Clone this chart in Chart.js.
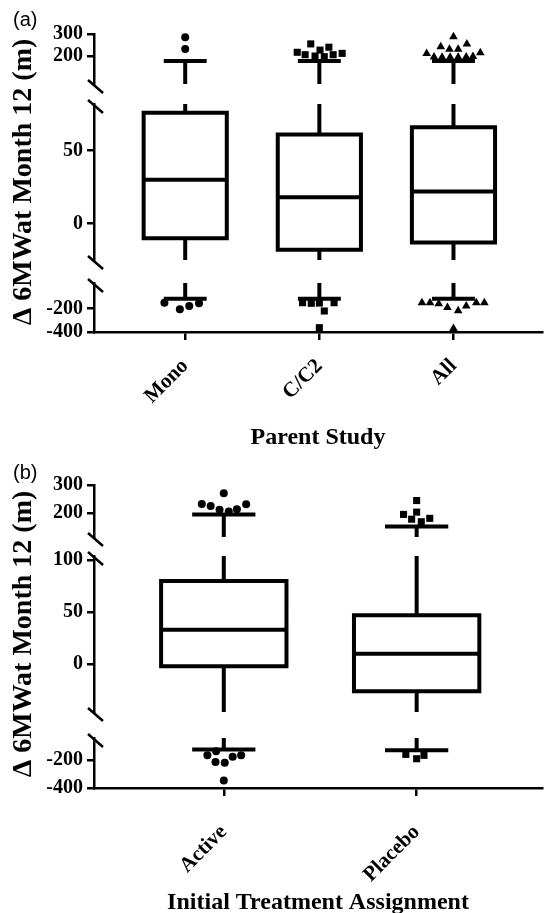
<!DOCTYPE html>
<html>
<head>
<meta charset="utf-8">
<script src="https://cdn.jsdelivr.net/npm/chart.js@4.4.1/dist/chart.umd.min.js"></script>
<style>
  body { margin: 0; background: #fff; }
  .wrap { position: absolute; left: 0; width: 547px; }
  .tag { position: absolute; left: 13px; font: 20px "Liberation Sans", Arial, sans-serif; line-height: 1; color: #000; }
</style>
</head>
<body>
<div class="wrap" style="top:0;height:458px"><canvas id="chartA"></canvas></div>
<div class="tag" style="top:9px">(a)</div>
<div class="wrap" style="top:458px;height:455px"><canvas id="chartB"></canvas></div>
<div class="tag" style="top:462px">(b)</div>
<script>
// ---- (a) Parent Study ----
const studyLabels = ['Mono', 'C/C2', 'All'];
const studyQ1 = [-10, -18, -13];
const studyMedian = [30, 18, 22];
const studyQ3 = [76, 61, 66];
const studyCapHigh = [177, 177, 177];
const studyCapLow = [-115, -115, -115];
// outliers as [x offset from category, value]
const studyOutHigh = [
  [[0, 285], [0, 232]],
  [[-0.165, 217], [-0.106, 206], [-0.064, 255], [-0.032, 200], [0.005, 227], [0.037, 197], [0.071, 240], [0.103, 206], [0.17, 212]],
  [[0, 288], [-0.095, 242], [-0.03, 231], [0.035, 231], [0.1, 255], [-0.2, 212], [0.2, 215],
   [-0.145, 196], [-0.085, 194], [-0.025, 194], [0.035, 194], [0.095, 196], [0.145, 198]]
];
const studyOutLow = [
  [[-0.155, -149], [-0.04, -206], [0.03, -178], [0.103, -154]],
  [[-0.125, -149], [-0.06, -154], [0, -152], [0.037, -220], [0.11, -149], [0, -363]],
  [[-0.235, -149], [-0.175, -149], [-0.11, -158], [-0.045, -190], [0.035, -218], [0.095, -178], [0.17, -149], [0.23, -149], [0, -369]]
];
const studyTicksTop = [300, 200];
const studyTicksMid = [50, 0];
const studyTicksLow = [-200, -400];

// ---- (b) Initial Treatment Assignment ----
const treatLabels = ['Active', 'Placebo'];
const treatQ1 = [-2, -26];
const treatMedian = [33, 10];
const treatQ3 = [80, 47];
const treatCapHigh = [196, 153];
const treatCapLow = [-126, -130];
const treatOutHigh = [
  [[0, 271], [-0.114, 233], [-0.068, 226], [-0.022, 212], [0.026, 206], [0.068, 214], [0.116, 232]],
  [[0, 245], [-0.068, 196], [0, 204], [-0.026, 179], [0.024, 170], [0.068, 182]]
];
const treatOutLow = [
  [[-0.085, -167], [-0.04, -137], [-0.043, -214], [0.005, -219], [0.046, -177], [0.09, -167], [0, -347]],
  [[-0.056, -160], [0, -191], [0.038, -167]]
];
const treatTicksTop = [300, 200];
const treatTicksMid = [100, 50, 0];
const treatTicksLow = [-200, -400];

const Y_FONT = { family: 'Liberation Serif', size: 20, weight: 'bold' };
const X_FONT = { family: 'Liberation Serif', size: 21, weight: 'bold' };
const TITLE_FONT = { family: 'Liberation Serif', size: 24, weight: 'bold' };
const YTITLE_FONT = { family: 'Liberation Serif', size: 28, weight: 'bold' };
const axisLine = { color: '#000', width: 2.5 };
const tickGrid = { drawOnChartArea: false, drawTicks: true, tickLength: 7, tickWidth: 2.5, tickColor: '#000', color: '#000', lineWidth: 2.5 };
const GAP = { x: null, y: null };

function lineSet(axis, data, cap) {
  return { showLine: true, yAxisID: axis, data, borderColor: '#000', backgroundColor: '#000',
    borderWidth: 4, pointRadius: 0, borderCapStyle: cap || 'butt', borderJoinStyle: 'miter', spanGaps: false };
}

function segScale(range, weight, order, tickVals, title) {
  const s = {
    type: 'linear', position: 'left', stack: 'left', stackWeight: weight, weight: order,
    min: range[0], max: range[1],
    afterBuildTicks: sc => { sc.ticks = tickVals.map(v => ({ value: v })); },
    afterFit: sc => { sc.width = 90; },
    ticks: { font: Y_FONT, color: '#000', padding: 4, callback: v => String(v) },
    grid: tickGrid, border: axisLine
  };
  if (title) s.title = { display: true, text: title, font: YTITLE_FONT, color: '#000', padding: { top: 3, bottom: 0 } };
  return s;
}

function gapScale(weight, order) {
  return { type: 'linear', position: 'left', stack: 'left', stackWeight: weight, weight: order, min: 0, max: 1,
    afterFit: sc => { sc.width = 90; }, ticks: { display: false }, grid: { display: false }, border: { display: false } };
}

// slashes where the y axis is broken
const breakMarks = {
  id: 'breakMarks',
  afterDraw(chart) {
    const ctx = chart.ctx, x = chart.chartArea.left;
    ctx.save();
    ctx.strokeStyle = '#000';
    ctx.lineWidth = 2.5;
    ['g1', 'g2'].forEach(id => {
      const s = chart.scales[id];
      [s.top, s.bottom].forEach(y => {
        ctx.beginPath();
        ctx.moveTo(x - 6, y - 4);
        ctx.lineTo(x + 9, y + 9);
        ctx.stroke();
      });
    });
    ctx.restore();
  }
};

function panel(p) {
  const boxPts = [], medPts = [], whiskMid = [], topPts = [], botPts = [];
  const datasets = [];
  p.labels.forEach((_, i) => {
    const c = i + 1, w = p.boxHalf, k = p.capHalf;
    boxPts.push({ x: c - w, y: p.q1[i] }, { x: c + w, y: p.q1[i] }, { x: c + w, y: p.q3[i] },
      { x: c - w, y: p.q3[i] }, { x: c - w, y: p.q1[i] }, GAP);
    medPts.push({ x: c - w, y: p.med[i] }, { x: c + w, y: p.med[i] }, GAP);
    whiskMid.push({ x: c, y: p.q3[i] }, { x: c, y: p.mid[1] }, GAP, { x: c, y: p.q1[i] }, { x: c, y: p.mid[0] }, GAP);
    topPts.push({ x: c, y: p.top[0] }, { x: c, y: p.capHigh[i] }, GAP, { x: c - k, y: p.capHigh[i] }, { x: c + k, y: p.capHigh[i] }, GAP);
    botPts.push({ x: c, y: p.bot[1] }, { x: c, y: p.capLow[i] }, GAP, { x: c - k, y: p.capLow[i] }, { x: c + k, y: p.capLow[i] }, GAP);
    const mark = { pointStyle: p.styles[i], pointRadius: p.radii[i], backgroundColor: '#000', borderColor: '#000', borderWidth: 0, clip: false };
    datasets.push(Object.assign({ yAxisID: 'yTop', data: p.outHigh[i].map(([dx, v]) => ({ x: c + dx, y: v })) }, mark));
    datasets.push(Object.assign({ yAxisID: 'yBot', data: p.outLow[i].map(([dx, v]) => ({ x: c + dx, y: v })) }, mark));
  });
  datasets.push(lineSet('y', boxPts, 'square'), lineSet('y', medPts), lineSet('y', whiskMid),
    lineSet('yTop', topPts), lineSet('yBot', botPts));

  return {
    type: 'scatter',
    data: { datasets },
    options: {
      responsive: true, maintainAspectRatio: false, animation: false, devicePixelRatio: 1,
      layout: { padding: { top: p.padTop, left: 4, right: 0, bottom: 0 } },
      plugins: { legend: { display: false }, tooltip: { enabled: false } },
      scales: {
        x: {
          type: 'linear', min: p.xRange[0], max: p.xRange[1],
          afterBuildTicks: sc => { sc.ticks = p.labels.map((_, i) => ({ value: i + 1 })); },
          afterFit: sc => { sc.height = p.xHeight; },
          ticks: { font: X_FONT, color: '#000', minRotation: 45, maxRotation: 45, autoSkip: false,
            padding: p.xPad, callback: v => p.labels[Math.round(v) - 1] },
          grid: Object.assign({}, tickGrid, { tickLength: 8 }),
          border: axisLine,
          title: { display: true, text: p.xTitle, font: TITLE_FONT, color: '#000', padding: { top: 0, bottom: p.titlePad } }
        },
        yTop: segScale(p.top, p.weights[0], 5, p.ticksTop),
        g1: gapScale(p.weights[1], 4),
        y: segScale(p.mid, p.weights[2], 3, p.ticksMid, 'Δ 6MWat Month 12 (m)'),
        g2: gapScale(p.weights[3], 2),
        yBot: segScale(p.bot, p.weights[4], 1, p.ticksLow)
      }
    },
    plugins: [breakMarks]
  };
}

new Chart(document.getElementById('chartA'), panel({
  labels: studyLabels, q1: studyQ1, med: studyMedian, q3: studyQ3,
  capHigh: studyCapHigh, capLow: studyCapLow, outHigh: studyOutHigh, outLow: studyOutLow,
  ticksTop: studyTicksTop, ticksMid: studyTicksMid, ticksLow: studyTicksLow,
  styles: ['circle', 'rect', 'triangle'], radii: [4, 5, 5],
  top: [73, 300], mid: [-25, 82], bot: [-400, 20],
  weights: [50, 20, 156, 23, 49],
  boxHalf: 0.31, capHalf: 0.16, xRange: [0.32, 3.66],
  padTop: 34, xHeight: 126, xPad: 14, titlePad: 6, xTitle: 'Parent Study'
}));

new Chart(document.getElementById('chartB'), panel({
  labels: treatLabels, q1: treatQ1, med: treatMedian, q3: treatQ3,
  capHigh: treatCapHigh, capLow: treatCapLow, outHigh: treatOutHigh, outLow: treatOutLow,
  ticksTop: treatTicksTop, ticksMid: treatTicksMid, ticksLow: treatTicksLow,
  styles: ['circle', 'rect'], radii: [4, 5],
  top: [116, 300], mid: [-46, 104], bot: [-400, -43],
  weights: [52, 19, 156, 26, 50],
  boxHalf: 0.325, capHalf: 0.164, xRange: [0.327, 2.65],
  padTop: 27, xHeight: 125, xPad: 24, titlePad: -4, xTitle: 'Initial Treatment Assignment'
}));
</script>
</body>
</html>
